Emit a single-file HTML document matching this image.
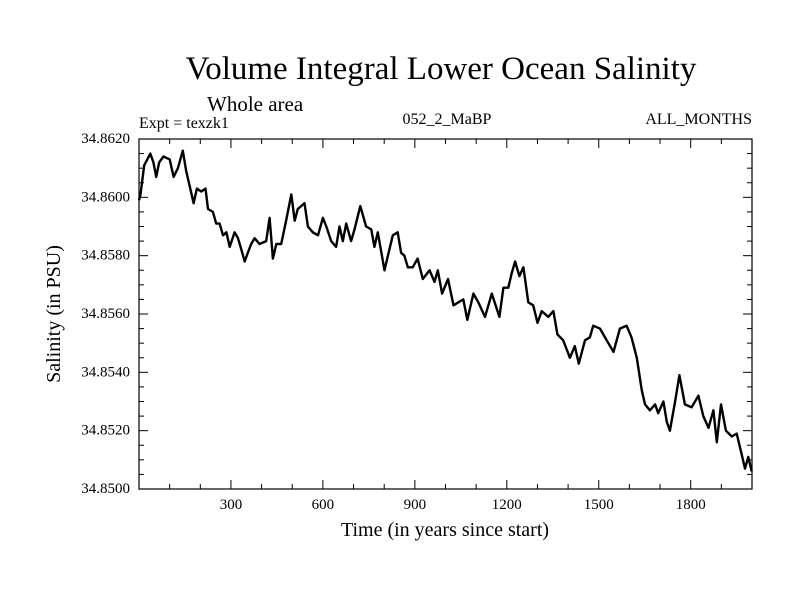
<!DOCTYPE html>
<html><head><meta charset="utf-8"><style>
body{margin:0;background:#fff}
svg text{font-family:"Liberation Serif",serif;fill:#000}
</style></head><body>
<svg id="chart" width="800" height="600" xmlns="http://www.w3.org/2000/svg">
<rect width="800" height="600" fill="#fff"/>
<text x="441" y="79" font-size="33" text-anchor="middle">Volume Integral Lower Ocean Salinity</text>
<text x="207" y="111" font-size="21">Whole area</text>
<text x="139" y="128" font-size="16">Expt = texzk1</text>
<text x="447" y="124" font-size="16" text-anchor="middle">052_2_MaBP</text>
<text x="752" y="124" font-size="16" text-anchor="end">ALL_MONTHS</text>
<text x="445" y="536" font-size="20" text-anchor="middle">Time (in years since start)</text>
<text transform="translate(60,314) rotate(-90)" font-size="20" text-anchor="middle">Salinity (in PSU)</text>
<g id="axes"></g>
<g id="series"></g>
<rect x="139" y="139" width="613" height="350" fill="none" stroke="#000" stroke-width="1.2"/>
</svg>
<script>
const years=[0,5,17,27,37,47,56,66,80,100,113,127,143,154,165,178,189,203,217,225,241,252,263,274,285,296,312,323,334,345,355,366,377,393,415,426,437,448,464,480,497,508,518,540,551,567,584,600,611,627,643,654,665,676,692,703,722,741,758,768,779,801,812,828,844,855,866,877,893,909,926,948,964,975,989,1008,1026,1042,1058,1071,1091,1107,1129,1151,1176,1189,1205,1216,1227,1241,1254,1270,1286,1300,1314,1335,1352,1365,1384,1406,1422,1435,1455,1471,1482,1504,1526,1548,1569,1591,1607,1624,1640,1651,1667,1684,1694,1711,1722,1732,1749,1763,1781,1803,1825,1841,1858,1874,1885,1899,1915,1934,1950,1966,1977,1988,1999];
const salinity=[34.8599,34.8601,34.8611,34.8613,34.8615,34.8612,34.8607,34.8612,34.8614,34.8613,34.8607,34.8610,34.8616,34.8609,34.8604,34.8598,34.8603,34.8602,34.8603,34.8596,34.8595,34.8591,34.8591,34.8587,34.8588,34.8583,34.8588,34.8586,34.8582,34.8578,34.8581,34.8584,34.8586,34.8584,34.8585,34.8593,34.8579,34.8584,34.8584,34.8592,34.8601,34.8592,34.8596,34.8598,34.8590,34.8588,34.8587,34.8593,34.8590,34.8585,34.8583,34.8590,34.8585,34.8591,34.8585,34.8589,34.8597,34.8590,34.8589,34.8583,34.8588,34.8575,34.8580,34.8587,34.8588,34.8581,34.8580,34.8576,34.8576,34.8579,34.8572,34.8575,34.8571,34.8575,34.8567,34.8572,34.8563,34.8564,34.8565,34.8558,34.8567,34.8564,34.8559,34.8567,34.8559,34.8569,34.8569,34.8574,34.8578,34.8573,34.8576,34.8564,34.8563,34.8557,34.8561,34.8559,34.8561,34.8553,34.8551,34.8545,34.8549,34.8543,34.8551,34.8552,34.8556,34.8555,34.8551,34.8547,34.8555,34.8556,34.8552,34.8545,34.8534,34.8529,34.8527,34.8529,34.8526,34.8530,34.8523,34.8520,34.8530,34.8539,34.8529,34.8528,34.8532,34.8525,34.8521,34.8527,34.8516,34.8529,34.8520,34.8518,34.8519,34.8512,34.8507,34.8511,34.8506];
const xTicks=[300,600,900,1200,1500,1800];
const yTicks=[34.850,34.852,34.854,34.856,34.858,34.860,34.862];
const yTickLabels=["34.8500","34.8520","34.8540","34.8560","34.8580","34.8600","34.8620"];
const X0=139,X1=752,Y0=489,Y1=139,xMin=0,xMax=2000,yMin=34.850,yMax=34.862;
const sx=v=>X0+(v-xMin)/(xMax-xMin)*(X1-X0);
const sy=v=>Y0-(v-yMin)/(yMax-yMin)*(Y0-Y1);
const NS="http://www.w3.org/2000/svg";
const axes=document.getElementById('axes'),series=document.getElementById('series');
function mk(tag,attrs,parent){const e=document.createElementNS(NS,tag);for(const k in attrs)e.setAttribute(k,attrs[k]);parent.appendChild(e);return e;}
for(let v=100;v<xMax;v+=100){const major=v%300===0,l=major?9:5;
const t1=mk('line',{x1:sx(v),x2:sx(v),y1:Y0,y2:Y0-l,stroke:'#000'},axes);


const t2=mk('line',{x1:sx(v),x2:sx(v),y1:Y1,y2:Y1+l,stroke:'#000'},axes);

}
for(let i=1;i<24;i++){const v=yMin+i*0.0005,major=i%4===0,l=major?9:5;
const t1=mk('line',{x1:X0,x2:X0+l,y1:sy(v),y2:sy(v),stroke:'#000'},axes);


const t2=mk('line',{x1:X1,x2:X1-l,y1:sy(v),y2:sy(v),stroke:'#000'},axes);

}
xTicks.forEach(v=>{const t=mk('text',{x:sx(v),y:Y0+20,'font-size':15,'text-anchor':'middle'},axes);t.textContent=v;

});
yTicks.forEach((v,i)=>{const t=mk('text',{x:130,y:sy(v)+4,'font-size':15,'text-anchor':'end'},axes);t.textContent=yTickLabels[i];

});
const d=years.map((y,i)=>(i?'L':'M')+sx(y).toFixed(1)+','+sy(salinity[i]).toFixed(1)).join(' ');
const p=mk('path',{d:d,fill:'none',stroke:'#000','stroke-width':2.4,'stroke-linejoin':'round'},series);


</script>
</body></html>
